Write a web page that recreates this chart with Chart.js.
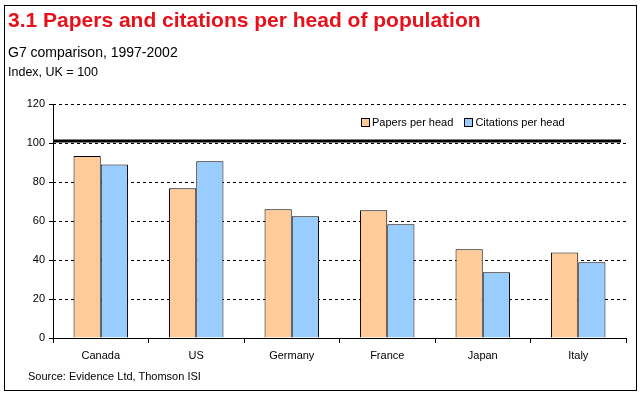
<!DOCTYPE html>
<html>
<head>
    <title>Papers and citations per head</title>
    <script src="https://cdn.jsdelivr.net/npm/chart.js"></script>
    <style>
        body {
            margin: 0;
            width: 641px;
            height: 394px;
            background: #fff;
            font-family: Arial, 'Liberation Sans', sans-serif;
            position: relative;
            overflow: hidden;
        }
        .frame {
            position: absolute;
            left: 4px;
            top: 5px;
            width: 631px;
            height: 384px;
            border: 1px solid #000;
        }
        .title {
            position: absolute;
            left: 8px;
            top: 8px;
            font-size: 21px;
            font-weight: bold;
            color: #e8101a;
        }
        .subtitle {
            position: absolute;
            left: 8px;
            top: 44px;
            font-size: 14px;
            color: #000;
        }
        .unit {
            position: absolute;
            left: 8px;
            top: 65px;
            font-size: 12.5px;
            color: #000;
        }
        .source {
            position: absolute;
            left: 28px;
            top: 370px;
            font-size: 11px;
            color: #000;
        }
        .legend {
            position: absolute;
            top: 116px;
            left: 361px;
            font-size: 11px;
            color: #000;
        }
        .legend span {
            margin-right: 8px;
        }
        .legend i {
            display: inline-block;
            width: 7px;
            height: 7px;
            border: 1px solid #000;
            margin-right: 2px;
            vertical-align: -1px;
        }
        #chart {
            position: absolute;
            left: 0;
            top: 0;
        }
    </style>
</head>
<body>
    <canvas id="chart" width="641" height="394"></canvas>
    <div class="frame"></div>
    <div class="title">3.1 Papers and citations per head of population</div>
    <div class="subtitle">G7 comparison, 1997-2002</div>
    <div class="unit">Index, UK = 100</div>
    <div class="legend">
        <span><i style="background:#ffcc99"></i>Papers per head</span>
        <span><i style="background:#99ccff"></i>Citations per head</span>
    </div>
    <div class="source">Source: Evidence Ltd, Thomson ISI</div>

    <script>
        const countries = ['Canada', 'US', 'Germany', 'France', 'Japan', 'Italy'];
        const papersPerHead = [93.3, 76.8, 66.0, 65.5, 45.5, 43.9];
        const citationsPerHead = [89.0, 90.6, 62.4, 58.3, 33.7, 38.8];
        const ukIndex = 101;
        const yTicks = [0, 20, 40, 60, 80, 100, 120];

        // solid y axis line + thick black UK reference line
        const extras = {
            id: 'extras',
            afterDatasetsDraw(chart) {
                const ctx = chart.ctx;
                const area = chart.chartArea;
                const y = chart.scales.y.getPixelForValue(ukIndex);
                ctx.save();
                ctx.strokeStyle = '#000';
                ctx.lineWidth = 1;
                ctx.beginPath();
                ctx.moveTo(area.left + 0.5, area.top);
                ctx.lineTo(area.left + 0.5, area.bottom);
                ctx.stroke();
                ctx.lineWidth = 3;
                ctx.beginPath();
                ctx.moveTo(area.left, y);
                ctx.lineTo(area.right - 5, y);
                ctx.stroke();
                ctx.restore();
            }
        };

        new Chart(document.getElementById('chart'), {
            type: 'bar',
            data: {
                labels: countries,
                datasets: [
                    {
                        label: 'Papers per head',
                        data: papersPerHead,
                        backgroundColor: '#ffcc99',
                        borderColor: '#000',
                        borderWidth: 1
                    },
                    {
                        label: 'Citations per head',
                        data: citationsPerHead,
                        backgroundColor: '#99ccff',
                        borderColor: '#000',
                        borderWidth: 1
                    }
                ]
            },
            options: {
                responsive: false,
                animation: false,
                events: [],
                datasets: {
                    bar: { categoryPercentage: 0.57, barPercentage: 1.0 }
                },
                layout: { padding: { top: 104, right: 15, bottom: 0, left: 0 } },
                plugins: {
                    legend: { display: false },
                    tooltip: { enabled: false }
                },
                scales: {
                    x: {
                        afterFit(scale) { scale.height = 56; },
                        grid: {
                            offset: true,
                            drawOnChartArea: false,
                            color: '#000',
                            tickLength: 5
                        },
                        border: { color: '#000', width: 1 },
                        ticks: {
                            color: '#000',
                            font: { family: 'Arial', size: 11 },
                            padding: 6
                        }
                    },
                    y: {
                        min: 0,
                        max: 120,
                        afterFit(scale) { scale.width = 53; },
                        afterBuildTicks(scale) {
                            scale.ticks = yTicks.map(v => ({ value: v }));
                        },
                        grid: {
                            color: ctx => ctx.tick.value === 0 ? 'rgba(0,0,0,0)' : '#000',
                            tickColor: '#000',
                            tickLength: 4,
                            tickBorderDash: []
                        },
                        border: { display: false, dash: [3, 3] },
                        ticks: {
                            color: '#000',
                            font: { family: 'Arial', size: 11 },
                            padding: 4
                        }
                    }
                }
            },
            plugins: [extras]
        });
    </script>
</body>
</html>
